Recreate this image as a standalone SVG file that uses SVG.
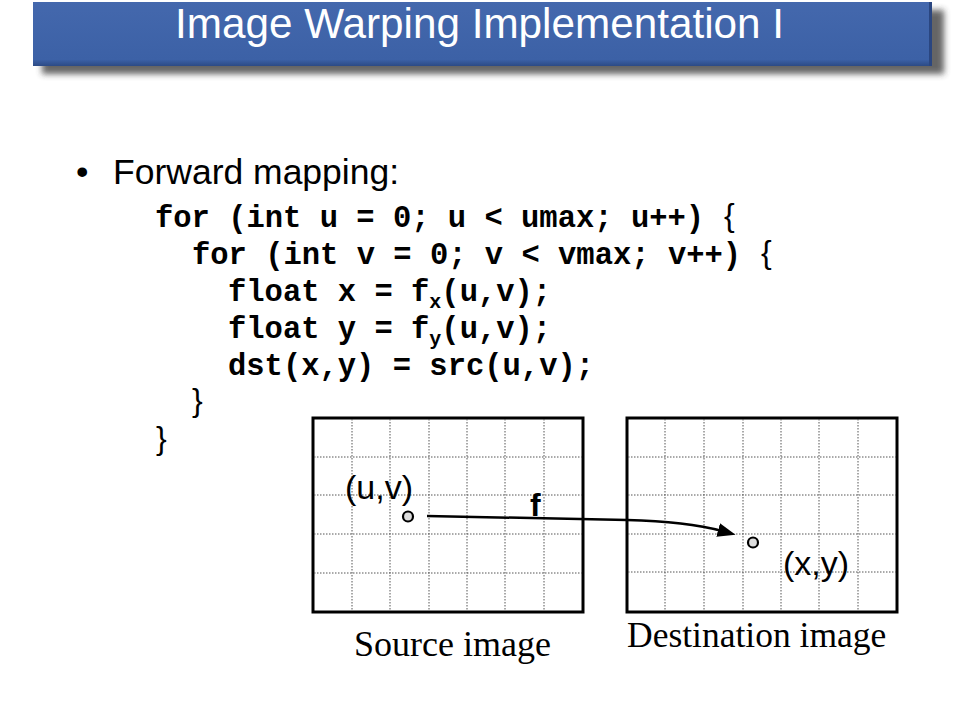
<svg xmlns="http://www.w3.org/2000/svg" width="960" height="720" viewBox="0 0 960 720">
<style>
.code{font-family:"Liberation Mono","Courier New",monospace;font-weight:bold;font-size:30.5px;fill:#000}
.sub{font-size:20px}
.brace{font-family:"Liberation Sans",Arial,sans-serif;font-size:32px;fill:#000}
.sans{font-family:"Liberation Sans",Arial,sans-serif;fill:#000}
.serif{font-family:"Liberation Serif","Times New Roman",serif;fill:#000}
.box{fill:#fff;stroke:#000;stroke-width:3}
.grid{stroke:#555;stroke-width:1;stroke-dasharray:1.5,1.5;fill:none}
.pt{fill:#ddd;stroke:#000;stroke-width:2.2}
.conn{fill:none;stroke:#000;stroke-width:2.5}
</style>
<defs>
<filter id="sh" x="-5%" y="-30%" width="110%" height="160%">
<feGaussianBlur stdDeviation="3"/>
</filter>
<linearGradient id="bar" x1="0" y1="0" x2="0" y2="1">
<stop offset="0" stop-color="#4468ad"/>
<stop offset="0.9" stop-color="#3c61a6"/>
<stop offset="1" stop-color="#2c4a85"/>
</linearGradient>
<marker id="ah" viewBox="0 0 18 14" markerUnits="userSpaceOnUse" markerWidth="18" markerHeight="14" refX="4" refY="7" orient="auto">
<path d="M0,0 L18,7 L0,14 z" fill="#000"/>
</marker>
</defs>
<rect width="960" height="720" fill="#fff"/>

<g id="title">
<rect x="42" y="10" width="902" height="64" fill="#333" opacity="0.75" filter="url(#sh)"/>
<rect x="33" y="2" width="899" height="64" fill="url(#bar)"/>
<rect x="929" y="2" width="3" height="64" fill="#2a4680"/>
<text x="175" y="38" class="sans" style="fill:#fff;font-size:43px" textLength="609" lengthAdjust="spacingAndGlyphs">Image Warping Implementation I</text>
</g>

<g id="bullet">
<text x="76" y="184" class="sans" style="font-size:35.5px">•</text>
<text x="113" y="184" class="sans" style="font-size:35.5px">Forward mapping:</text>
</g>

<g id="code">
<text x="155" y="227" class="code" xml:space="preserve">for (int u = 0; u &lt; umax; u++)</text>
<text x="724" y="226" class="brace">{</text>
<text x="192" y="264" class="code" xml:space="preserve">for (int v = 0; v &lt; vmax; v++)</text>
<text x="761" y="263" class="brace">{</text>
<text x="228" y="301" class="code" xml:space="preserve">float x = f<tspan class="sub" dy="7">x</tspan><tspan dy="-7">(u,v);</tspan></text>
<text x="228" y="338" class="code" xml:space="preserve">float y = f<tspan class="sub" dy="7">y</tspan><tspan dy="-7">(u,v);</tspan></text>
<text x="228" y="375" class="code" xml:space="preserve">dst(x,y) = src(u,v);</text>
<text x="192" y="411" class="brace">}</text>
<text x="156" y="449" class="brace">}</text>
</g>

<g id="source">
<rect x="313" y="418" width="270" height="194" class="box"/>
<path class="grid" d="M352,419V611M390,419V611M429,419V611M467,419V611M505,419V611M544,419V611M314,457H582M314,495H582M314,534H582M314,573H582"/>
<text x="345" y="499" class="sans" style="font-size:34px">(u,v)</text>
<circle cx="408" cy="516.5" r="5" class="pt"/>
<text x="354" y="656" class="serif" style="font-size:36px">Source image</text>
</g>

<g id="destination">
<rect x="627" y="418" width="270" height="194" class="box"/>
<path class="grid" d="M665,419V611M704,419V611M743,419V611M781,419V611M819,419V611M858,419V611M628,457H896M628,495H896M628,534H896M628,572H896"/>
<circle cx="753" cy="542.5" r="5" class="pt"/>
<text x="783" y="575" class="sans" style="font-size:34px">(x,y)</text>
<text x="627" y="647" class="serif" style="font-size:35.5px">Destination image</text>
</g>

<g id="connectors">
<path class="conn" d="M427,516 L627,520 C670,521 700,525 722,531" marker-end="url(#ah)"/>
<text x="530" y="516" class="sans" style="font-size:32px;font-weight:bold">f</text>
</g>
</svg>
